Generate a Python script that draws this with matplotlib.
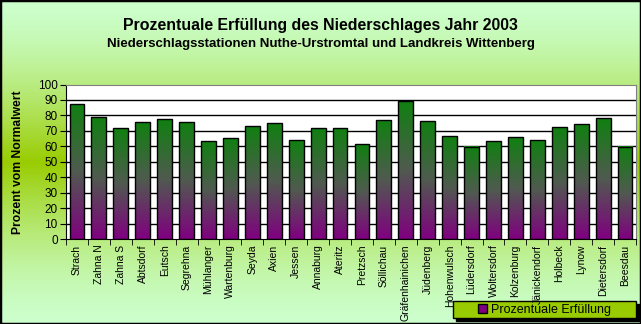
import numpy as np
import matplotlib
matplotlib.use("Agg")
import matplotlib.pyplot as plt
from matplotlib.colors import LinearSegmentedColormap, to_rgb
from matplotlib.patches import Rectangle, Patch

plt.rcParams['font.family'] = ['Liberation Sans', 'DejaVu Sans']

stations = ["Strach", "Zahna N", "Zahna S", "Abtsdorf", "Eutsch", "Segrehna",
            "Mühlanger", "Wartenburg", "Seyda", "Axien", "Jessen", "Annaburg",
            "Ateritz", "Pretzsch", "Söllichau", "Gräfenhainichen", "Jüdenberg",
            "Hohenwulsch", "Lüdersdorf", "Woltersdorf", "Kolzenburg",
            "Jänickendorf", "Holbeck", "Lynow", "Dietersdorf", "Beesdau"]
erfuellung = [87.1, 78.7, 71.6, 75.7, 77.4, 75.7, 63.2, 65.2, 72.9, 74.8,
              63.9, 71.6, 71.6, 61.3, 76.8, 89.2, 76.1, 66.5, 59.8, 63.2,
              65.8, 63.9, 72.3, 74.2, 78.1, 59.6]
yticks = list(range(0, 101, 10))

W, H = 641, 324
fig = plt.figure(figsize=(W / 100, H / 100), dpi=100)

# background: light green at top/bottom, yellow-green in the middle band
bg = fig.add_axes([0, 0, 1, 1], zorder=0)
yy, xx = np.mgrid[0:1:200j, 0:1:300j]
t = 1 - np.abs(yy - 0.5) * 2
t = t ** 1.5
light = np.array(to_rgb("#ccffcc"))
dark = np.array(to_rgb("#99cc00"))
img = light[None, None, :] * (1 - t[..., None]) + dark[None, None, :] * t[..., None]
bg.imshow(img, extent=[0, 1, 0, 1], aspect='auto', origin='lower')
bg.set_axis_off()
bg.add_patch(Rectangle((0, 0), 1, 1, transform=bg.transAxes, fill=False,
                       edgecolor='black', linewidth=2.5))

ax = fig.add_axes([66 / W, 1 - 239 / H, (636 - 66) / W, (239 - 84.5) / H], zorder=1)
ax.set_facecolor('white')

cmap = LinearSegmentedColormap.from_list("gp", ["#800080", "#505a50", "#108010"])
grad = np.linspace(0, 1, 256).reshape(-1, 1)
x = np.arange(len(stations))
bw = 0.68
for xi, v in zip(x, erfuellung):
    ax.imshow(grad, cmap=cmap, extent=[xi - bw / 2, xi + bw / 2, 0, v],
              aspect='auto', origin='lower', zorder=2)
    ax.add_patch(Rectangle((xi - bw / 2, 0), bw, v, fill=False,
                           edgecolor='black', linewidth=1.0, zorder=3))

ax.set_xlim(-0.5, len(stations) - 0.5)
ax.set_ylim(0, 100)
ax.set_yticks(yticks)
ax.set_yticklabels([str(v) for v in yticks], fontsize=8.5)
for v in yticks[1:-1]:
    ax.axhline(v, color='black', linewidth=1.0, zorder=1)

ax.set_xticks(x)
ax.set_xticklabels(stations, rotation=90, fontsize=7.5, va='top')
ax.set_xticks(np.arange(-0.5, len(stations), 1), minor=True)
ax.tick_params(axis='x', which='major', length=0, pad=4)
ax.tick_params(axis='x', which='minor', length=4, color='black')
ax.tick_params(axis='y', length=4, pad=2)

for s in ['top', 'right']:
    ax.spines[s].set_color('#808080')
for s in ['left', 'bottom']:
    ax.spines[s].set_color('black')

ax.set_ylabel("Prozent vom Normalwert", fontsize=8.7, fontweight='bold')
ax.yaxis.set_label_coords(-0.073, 0.5)

fig.text(0.5, 1 - 25.5 / H, "Prozentuale Erfüllung des Niederschlages Jahr 2003",
         ha='center', va='center', fontsize=11.4, fontweight='bold')
fig.text(0.5, 1 - 44.5 / H, "Niederschlagsstationen Nuthe-Urstromtal und Landkreis Wittenberg",
         ha='center', va='center', fontsize=9.5, fontweight='bold')

# legend box with black shadow
lx, ly, lw, lh = 453 / W, 1 - 318 / H, 183 / W, 17 / H
bg.add_patch(Rectangle((lx + 3 / W, ly - 3 / H), lw, lh, facecolor='black',
                       edgecolor='black', zorder=5))
bg.add_patch(Rectangle((lx, ly), lw, lh, facecolor='#99cc00',
                       edgecolor='black', linewidth=1, zorder=6))
leg = fig.legend(handles=[Patch(facecolor='#800080', edgecolor='black',
                                label='Prozentuale Erfüllung')],
                 loc='center', bbox_to_anchor=(lx + lw / 2, ly + lh / 2),
                 frameon=False, fontsize=9, handlelength=0.7, handleheight=0.7,
                 handletextpad=0.3, borderpad=0)
leg.set_zorder(7)

fig.savefig("out.png", dpi=100)
